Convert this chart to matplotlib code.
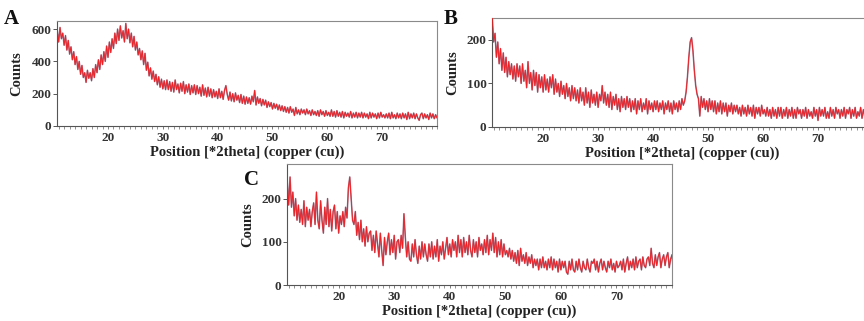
import numpy as np
import matplotlib
matplotlib.use('Agg')
import matplotlib.pyplot as plt
from matplotlib.ticker import MultipleLocator

# scan grid: 10.75 deg, step 0.25 deg (one row below = 5 deg)
start_2theta = 10.75
step_2theta = 0.25

counts_a = [
    590, 520, 610, 540, 575, 500, 560, 470, 530, 445, 490, 410, 460, 380, 430, 350, 400, 320, 375, 300,
    330, 270, 345, 295, 330, 280, 355, 300, 380, 330, 410, 350, 440, 380, 460, 400, 495, 425, 520, 455,
    540, 480, 575, 510, 600, 530, 620, 545, 590, 520, 635, 540, 600, 515, 575, 490, 555, 470, 520, 440,
    480, 410, 465, 380, 450, 345, 395, 310, 360, 290, 340, 275, 320, 255, 305, 240, 290, 230, 280, 225,
    285, 225, 275, 215, 270, 210, 285, 225, 260, 205, 265, 215, 275, 200, 255, 210, 260, 195, 250, 205,
    255, 195, 250, 200, 240, 185, 255, 190, 235, 180, 240, 185, 230, 175, 225, 180, 215, 170, 230, 175,
    215, 165, 220, 250, 195, 160, 210, 155, 200, 150, 205, 160, 190, 145, 195, 140, 185, 135, 180, 140,
    175, 135, 185, 150, 220, 130, 180, 140, 170, 125, 165, 130, 160, 115, 150, 120, 145, 105, 140, 110,
    135, 100, 130, 95, 125, 90, 120, 85, 115, 80, 120, 85, 105, 65, 115, 75, 100, 70, 105, 80,
    100, 70, 105, 75, 95, 65, 100, 70, 90, 65, 95, 60, 100, 70, 90, 60, 95, 65, 85, 60,
    100, 60, 90, 55, 95, 60, 85, 55, 90, 50, 85, 60, 80, 55, 90, 50, 80, 55, 85, 50,
    80, 55, 85, 50, 80, 55, 75, 45, 85, 50, 80, 55, 75, 45, 80, 50, 85, 55, 70, 50,
    75, 50, 80, 45, 85, 50, 70, 45, 80, 50, 75, 45, 80, 50, 75, 40, 85, 45, 75, 50,
    80, 45, 75, 50, 35, 70, 80, 45, 75, 50, 70, 40, 80, 50, 75, 45, 70, 50, 75, 55,
]

counts_b = [
    250, 195, 215, 160, 195, 145, 180, 130, 170, 125, 160, 115, 150, 120, 145, 110, 140, 105, 145, 115,
    140, 100, 145, 105, 130, 90, 150, 100, 125, 85, 130, 95, 125, 80, 120, 90, 115, 80, 120, 85,
    110, 80, 115, 90, 120, 75, 110, 80, 100, 70, 105, 75, 95, 65, 100, 70, 90, 60, 95, 65,
    90, 60, 85, 55, 90, 60, 80, 50, 90, 55, 80, 45, 85, 55, 75, 50, 80, 45, 75, 60,
    95, 55, 80, 50, 75, 45, 80, 40, 70, 50, 75, 40, 65, 35, 70, 45, 65, 40, 70, 45,
    65, 35, 60, 40, 65, 30, 60, 40, 65, 35, 55, 40, 65, 30, 60, 40, 55, 35, 60, 40,
    60, 35, 55, 40, 60, 30, 55, 40, 60, 35, 55, 30, 60, 40, 55, 35, 60, 40, 65, 50,
    60, 80, 115, 160, 195, 205, 175, 130, 95, 75, 65, 25, 70, 45, 65, 40, 60, 35, 65, 40,
    60, 35, 60, 30, 55, 35, 60, 30, 55, 35, 55, 25, 50, 35, 55, 30, 50, 35, 50, 30,
    45, 25, 50, 30, 45, 25, 50, 30, 45, 25, 50, 20, 45, 30, 45, 25, 50, 30, 40, 25,
    45, 25, 40, 20, 45, 25, 40, 20, 45, 25, 45, 20, 40, 25, 45, 20, 40, 25, 45, 20,
    40, 20, 45, 30, 40, 20, 40, 25, 45, 20, 40, 25, 35, 20, 45, 25, 40, 15, 45, 25,
    40, 25, 45, 20, 35, 20, 45, 25, 40, 20, 45, 30, 40, 20, 40, 25, 45, 20, 40, 30,
    45, 20, 40, 25, 45, 20, 35, 25, 45, 20, 40, 25, 45, 20, 40, 30, 45, 20, 40, 25,
]

counts_c = [
    240, 185, 250, 180, 215, 160, 200, 150, 185, 145, 175, 140, 195, 135, 180, 150, 175, 135, 170, 190,
    140, 215, 150, 130, 195, 150, 120, 180, 140, 200, 135, 175, 125, 170, 185, 130, 170, 120, 160, 140,
    170, 135, 180, 155, 225, 250, 200, 150, 140, 170, 115, 145, 105, 150, 100, 130, 90, 135, 100, 120,
    125, 80, 115, 75, 125, 95, 65, 120, 80, 45, 110, 70, 100, 120, 70, 105, 75, 115, 60, 100,
    105, 75, 115, 85, 165, 110, 65, 100, 60, 55, 95, 65, 105, 70, 50, 90, 60, 100, 65, 95,
    70, 55, 95, 65, 100, 60, 90, 65, 105, 55, 90, 70, 100, 60, 85, 110, 70, 95, 65, 105,
    80, 100, 65, 115, 75, 105, 65, 110, 75, 100, 70, 115, 80, 65, 105, 75, 100, 65, 110, 80,
    95, 70, 105, 75, 115, 70, 105, 80, 120, 75, 110, 65, 100, 70, 105, 65, 95, 70, 80, 65,
    85, 60, 80, 55, 75, 50, 80, 45, 85, 55, 70, 50, 75, 45, 65, 50, 70, 40, 60, 45,
    60, 35, 60, 40, 65, 40, 55, 35, 60, 40, 65, 35, 60, 40, 55, 30, 60, 35, 55, 40,
    55, 30, 25, 55, 35, 60, 35, 30, 55, 35, 60, 40, 30, 55, 40, 35, 60, 40, 30, 55,
    50, 60, 35, 55, 30, 50, 60, 35, 55, 40, 30, 55, 40, 60, 35, 50, 30, 55, 40, 45,
    55, 35, 60, 30, 50, 65, 35, 55, 40, 60, 35, 65, 40, 55, 60, 35, 65, 45, 40, 60,
    65, 45, 85, 50, 40, 70, 45, 65, 75, 40, 60, 70, 45, 65, 75, 40, 60, 70, 35, 60,
]

y_ticks_a = [0, 200, 400, 600]
y_ticks_b = [0, 100, 200]
y_ticks_c = [0, 100, 200]
x_ticks = [20, 30, 40, 50, 60, 70]

RED = '#ff1414'
MAUVE = '#a0728a'
SERIF = ['Liberation Serif', 'DejaVu Serif']

W, H = 864, 321
fig = plt.figure(figsize=(W / 100, H / 100), dpi=100)


def px_axes(left, top, right, bottom):
    return fig.add_axes([left / W, 1 - bottom / H, (right - left) / W, (bottom - top) / H])


def draw_panel(ax, counts, yticks, ymax, letter, letter_xy, ylab_x):
    x = start_2theta + step_2theta * np.arange(len(counts))
    ax.plot(x, counts, color=MAUVE, lw=1.1, zorder=2)
    ax.plot(x, counts, color=RED, lw=0.6, alpha=0.9, zorder=3)
    ax.set_xlim(10.7, 80)
    ax.set_ylim(0, ymax)
    ax.set_xticks(x_ticks)
    ax.set_yticks(yticks)
    ax.xaxis.set_minor_locator(MultipleLocator(1))
    ax.tick_params(axis='x', which='major', length=2.5, width=0.6, color='#666', pad=2)
    ax.tick_params(axis='x', which='minor', length=1.8, width=0.5, color='#666')
    ax.tick_params(axis='y', length=3, width=0.7, color='#555', pad=1)
    for lab in ax.get_xticklabels() + ax.get_yticklabels():
        lab.set_family(SERIF)
        lab.set_fontsize(9.5)
        lab.set_color('#333')
        lab.set_fontweight('bold')
    for s in ax.spines.values():
        s.set_color('#8a8a8a')
        s.set_linewidth(0.8)
    ax.spines['left'].set_color('#555')
    ax.spines['bottom'].set_color('#555')
    ax.set_xlabel('Position [*2theta] (copper (cu))', family=SERIF, fontsize=10.5,
                  fontweight='bold', color='#222', labelpad=1)
    ax.set_ylabel('Counts', family=SERIF, fontsize=10.5, fontweight='bold', color='#222')
    ax.yaxis.set_label_coords(ylab_x, 0.5)
    fig.text(letter_xy[0] / W, 1 - letter_xy[1] / H, letter, family=SERIF,
             fontsize=15, fontweight='bold', color='#111', ha='left', va='center')


ax_a = px_axes(57, 21, 437, 126)
draw_panel(ax_a, counts_a, y_ticks_a, 650, 'A', (4, 19), -0.09)

ax_b = px_axes(492, 18, 873, 127)
draw_panel(ax_b, counts_b, y_ticks_b, 250, 'B', (444, 19), -0.085)

ax_c = px_axes(287, 164, 672, 285)
draw_panel(ax_c, counts_c, y_ticks_c, 280, 'C', (244, 180), -0.085)

fig.savefig('out.png', dpi=100)
